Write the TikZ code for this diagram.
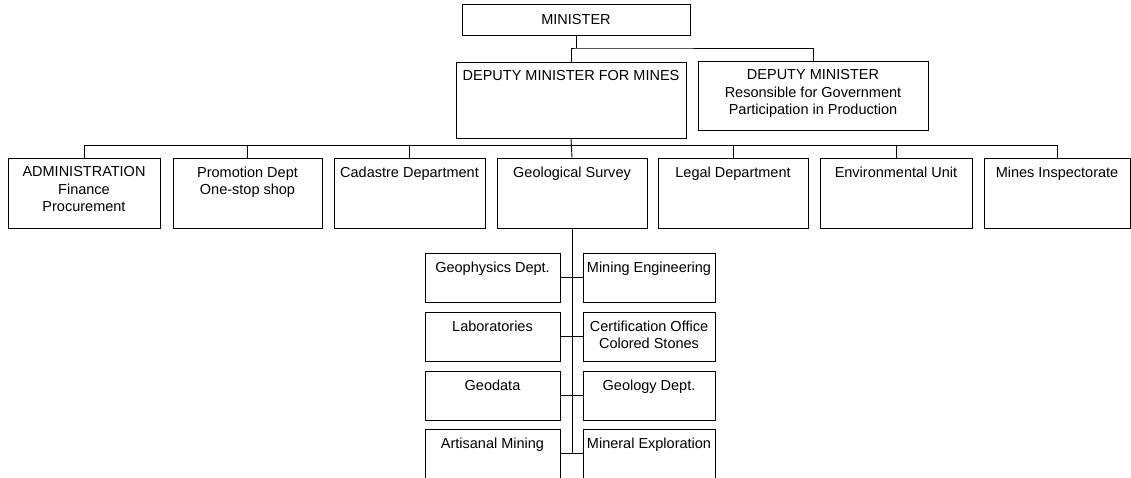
\documentclass[tikz,border=0pt]{standalone}
\usepackage{fontspec}
\setmainfont{Liberation Sans}
\begin{document}
\begin{tikzpicture}[x=1pt,y=-1pt,
  box/.style={draw,line width=0.9pt,inner sep=0pt,minimum height=#1},
  box/.default=70,
  lab/.style={anchor=north,inner sep=0pt,yshift=-9pt,align=center,
    font=\fontsize{14.5}{17.5}\selectfont},
  wire/.style={line width=0.9pt},
  every node/.style={font=\fontsize{14.5}{17.5}\selectfont}]
\useasboundingbox (0,0) rectangle (1131,478);
\clip (0,0) rectangle (1131,477.2);

% top levels
\node[box=31,minimum width=228] (min) at (576,19.5) {MINISTER};
\node[box=76,minimum width=230,label={[lab]north:DEPUTY MINISTER FOR MINES}] (dmm) at (571,100) {};
\node[box=69,minimum width=230,label={[lab]north:DEPUTY MINISTER\\Resonsible for Government\\Participation in Production}] (dm) at (813,95.5) {};

% departments
\node[box,minimum width=152,label={[lab]north:ADMINISTRATION\\Finance\\Procurement}] (adm) at (84,193) {};
\node[box,minimum width=149,label={[lab]north:Promotion Dept\\One-stop shop}] (pro) at (247.5,193) {};
\node[box,minimum width=151,label={[lab]north:Cadastre Department}] (cad) at (409.5,193) {};
\node[box,minimum width=150,label={[lab]north:Geological Survey}] (gs) at (572,193) {};
\node[box,minimum width=150,label={[lab]north:Legal Department}] (leg) at (733,193) {};
\node[box,minimum width=152,label={[lab]north:Environmental Unit}] (env) at (896,193) {};
\node[box,minimum width=146,label={[lab]north:Mines Inspectorate}] (mi) at (1057,193) {};

% geological survey units
\node[box=49,minimum width=135,label={[lab]north:Geophysics Dept.}] (l1) at (492.5,277.5) {};
\node[box=49,minimum width=135,label={[lab]north:Laboratories}] (l2) at (492.5,336.5) {};
\node[box=49,minimum width=135,label={[lab]north:Geodata}] (l3) at (492.5,395.5) {};
\node[box=49,minimum width=135,label={[lab]north:Artisanal Mining}] (l4) at (492.5,453.5) {};
\node[box=49,minimum width=132,label={[lab]north:Mining Engineering}] (r1) at (649,277.5) {};
\node[box=49,minimum width=132,label={[lab]north:Certification Office\\Colored Stones}] (r2) at (649,336.5) {};
\node[box=49,minimum width=132,label={[lab]north:Geology Dept.}] (r3) at (649,395.5) {};
\node[box=49,minimum width=132,label={[lab]north:Mineral Exploration}] (r4) at (649,453.5) {};

% connectors
\coordinate (t) at (576,48);
\coordinate (bus) at (0,145);
\draw[wire] (min.south) -- (t);
\draw[wire] (dmm.north) |- (t) -| (dm.north);
\draw[wire] (dmm.south) -- (gs.north);
\draw[wire] (adm.north) |- (bus -| mi.north) -- (mi.north);
\foreach \n in {pro,cad,leg,env}
  \draw[wire] (\n.north) -- (\n.north |- bus);
\draw[wire] (gs.south) -- (gs.south |- l4.east);
\foreach \i in {1,2,3,4}
  \draw[wire] (l\i.east) -- (r\i.west);
\end{tikzpicture}
\end{document}
